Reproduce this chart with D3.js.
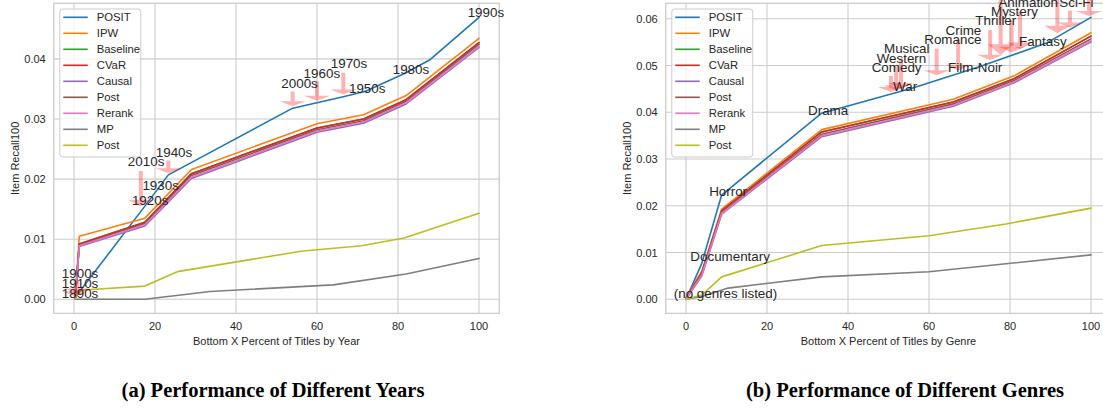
<!DOCTYPE html>
<html lang="en">
<head>
  <meta charset="UTF-8">
  <title>Item Recall100 by Year and Genre</title>
  <script src="https://d3js.org/d3.v7.min.js"></script>
  <style>
    body { margin: 0; padding: 0; background: #fff; }
    svg { display: block; font-family: "Liberation Sans", Arial, sans-serif; }
    .tick { font-size: 11px; fill: #262626; }
    .axis-label { font-size: 11px; fill: #262626; }
    .legend-text { font-size: 11.3px; fill: #262626; }
    .note { font-size: 13.4px; fill: #262626; }
    .caption { font-family: "Liberation Serif", "DejaVu Serif", serif; font-weight: bold; font-size: 20.5px; fill: #000; }
  </style>
</head>
<body>
  <svg id="chart" width="1103" height="409"></svg>

  <script>
    const methods = ["POSIT", "IPW", "Baseline", "CVaR", "Causal", "Post", "Rerank", "MP", "Post"];
    const colors = ["#1f77b4", "#ff7f0e", "#2ca02c", "#d62728", "#9467bd", "#8c564b", "#e377c2", "#7f7f7f", "#bcbd22"];
    const xTicks = [0, 20, 40, 60, 80, 100];

    // (a) years: [bottom x percent, recall]
    const yearPosit    = [[0.3,0.0002],[1.3,0.0012],[17.5,0.0155],[23.3,0.0207],[54,0.0318],[60,0.0327],[66.5,0.0337],[72,0.0346],[82,0.0377],[88,0.0399],[100,0.0469]];
    const yearIpw      = [[0.3,0.0003],[1.3,0.0105],[17.5,0.0135],[29,0.0216],[60,0.0292],[71.5,0.0307],[82,0.0339],[100,0.0434]];
    const yearBaseline = [[0.3,0.0002],[1.3,0.0092],[17.5,0.0128],[29,0.0209],[60,0.0285],[71.5,0.0300],[82,0.0332],[100,0.0427]];
    const yearCvar     = [[0.3,0.0002],[1.3,0.0092],[17.5,0.0128],[29,0.0209],[60,0.0285],[71.5,0.0300],[82,0.0332],[100,0.0427]];
    const yearCausal   = [[0.3,0.0001],[1.3,0.0088],[17.5,0.0122],[29,0.0201],[60,0.0278],[71.5,0.0293],[82,0.0325],[100,0.0419]];
    const yearPost     = [[0.3,0.0001],[1.3,0.0090],[17.5,0.0126],[29,0.0206],[60,0.0282],[71.5,0.0297],[82,0.0329],[100,0.0424]];
    const yearRerank   = [[0.3,0.0001],[1.3,0.0089],[17.5,0.0124],[29,0.0203],[60,0.0280],[71.5,0.0295],[82,0.0327],[100,0.0421]];
    const yearMp       = [[0.3,0],[17.5,0],[33.6,0.0013],[64,0.0024],[82,0.0042],[100,0.0068]];
    const yearPost2    = [[0.3,0.0002],[1.3,0.0015],[17.5,0.0022],[25.5,0.0046],[43.5,0.0066],[56,0.0080],[71,0.0089],[81.5,0.0102],[100,0.0143]];

    const yearNoteLabels = ["1890s","1910s","1900s","2010s","1920s","1930s","1940s","2000s","1960s","1970s","1950s","1980s","1990s"];
    const yearNotePoints = [[0.3,0.0001],[0.3,0.0003],[0.8,0.0007],[16.5,0.0150],[17.6,0.0156],[20.2,0.0182],[23.3,0.0207],[54,0.0318],[60,0.0327],[66.5,0.0337],[72,0.0346],[82,0.0377],[100,0.0469]];
    const yearNoteText   = [[1.5,0.0002],[1.5,0.0019],[1.5,0.0036],[17.8,0.0222],[18.8,0.0157],[21.4,0.0182],[24.7,0.0237],[55.7,0.0352],[61.2,0.0369],[67.9,0.0384],[72.4,0.0344],[83.2,0.0374],[101.7,0.0469]];

    // (b) genres
    const genrePosit    = [[0,0],[3.9,0.0077],[8.8,0.0223],[33.5,0.0398],[56,0.0452],[72.6,0.0498],[89,0.0548],[100,0.0603]];
    const genreIpw      = [[0,0.0003],[3.9,0.0060],[8.8,0.0193],[33.5,0.0363],[66,0.0428],[81,0.0478],[100,0.0570]];
    const genreBaseline = [[0,0.0002],[3.9,0.0057],[8.8,0.0189],[33.5,0.0358],[66,0.0422],[81,0.0472],[100,0.0563]];
    const genreCvar     = [[0,0.0002],[3.9,0.0057],[8.8,0.0189],[33.5,0.0358],[66,0.0422],[81,0.0472],[100,0.0563]];
    const genreCausal   = [[0,0],[3.9,0.0050],[8.8,0.0182],[33.5,0.0348],[66,0.0413],[81,0.0463],[100,0.0551]];
    const genrePost     = [[0,0.0001],[3.9,0.0054],[8.8,0.0186],[33.5,0.0353],[66,0.0418],[81,0.0468],[100,0.0557]];
    const genreRerank   = [[0,0.0001],[3.9,0.0052],[8.8,0.0184],[33.5,0.0350],[66,0.0415],[81,0.0465],[100,0.0553]];
    const genreMp       = [[0,0],[3.9,0.0006],[10.4,0.0024],[33.5,0.0048],[60,0.0059],[79,0.0076],[100,0.0095]];
    const genrePost2    = [[0,0],[3.9,0.0009],[8.8,0.0048],[33.5,0.0115],[60,0.0136],[79,0.0161],[100,0.0195]];

    const genreNoteLabels = ["(no genres listed)","Documentary","Horror","Drama","War","Comedy","Western","Musical","Romance","Crime","Film-Noir","Thriller","Mystery","Animation","Fantasy","Sci-Fi"];
    const genreNotePoints = [[0,0],[3.9,0.0077],[8.8,0.0223],[33.5,0.0398],[52.5,0.0443],[50.6,0.0439],[51.9,0.0442],[53.1,0.0445],[61.9,0.0474],[67.2,0.0484],[71.4,0.0494],[75.1,0.0506],[80.4,0.0522],[82.5,0.0528],[86.9,0.0542],[94.8,0.0577]];
    const genreNoteText   = [[9.75,0.0002],[10.9,0.0081],[10.4,0.0221],[35.1,0.0395],[54.1,0.0445],[52.0,0.0486],[53.2,0.0506],[54.5,0.0526],[65.9,0.0546],[68.5,0.0566],[71.4,0.0486],[76.5,0.0586],[81.1,0.0606],[84.5,0.0626],[88.1,0.0541],[96.4,0.0626]];
    // arrows whose labels sit above the top of the figure
    const genreCutPoints = [[77.7,0.0514],[91.7,0.0562],[99.5,0.0601]];
    const genreCutText   = [[79.0,0.0660],[93.0,0.0668],[100.5,0.0668]];

    const yearTicks = [0, 0.01, 0.02, 0.03, 0.04];
    const genreTicks = [0, 0.01, 0.02, 0.03, 0.04, 0.05, 0.06];

    const svg = d3.select("#chart");
    svg.append("rect").attr("width", 1103).attr("height", 409).attr("fill", "#fff");

    function drawArrow(g, x, y, pt, tx) {
      const px = x(pt[0]), py = y(pt[1]);
      const y1 = y(tx[1]) + 3;
      const len = py - y1;
      if (len < 5) return;
      const s = y1 + len * 0.05, e = py - len * 0.05 - 1;
      const hl = Math.max(5, (e - s) * 0.18), hw = 13, sw = 2;
      const p = d3.path();
      p.moveTo(px - sw, s); p.lineTo(px - sw, e - hl); p.lineTo(px - hw, e - hl);
      p.lineTo(px, e); p.lineTo(px + hw, e - hl); p.lineTo(px + sw, e - hl); p.lineTo(px + sw, s);
      p.closePath();
      g.append("path").attr("d", p.toString()).attr("fill", "#ff0000").attr("fill-opacity", 0.3);
    }

    function drawPanel(opts) {
      const top = 3.3, bottom = 313.4;
      const allY = opts.series.flatMap(s => s.map(d => d[1]));
      const yMax = d3.max(allY), yMin = 0;
      const pad = (yMax - yMin) * 0.05;

      const x = d3.scaleLinear().domain([-5, 105]).range([opts.left, opts.left + 445.5]);
      const y = d3.scaleLinear().domain([yMin - pad, yMax + pad]).range([bottom, top]);

      const g = svg.append("g");
      const clipId = "clip-" + opts.id;
      g.append("clipPath").attr("id", clipId)
       .append("rect").attr("x", x(-5)).attr("y", top).attr("width", x(105) - x(-5)).attr("height", bottom - top);

      // grid
      g.selectAll(".gx").data(xTicks).enter().append("line")
       .attr("x1", d => x(d)).attr("x2", d => x(d)).attr("y1", top).attr("y2", bottom)
       .attr("stroke", "#cccccc").attr("stroke-width", 1.1);
      g.selectAll(".gy").data(opts.yTicks).enter().append("line")
       .attr("x1", x(-5)).attr("x2", x(105)).attr("y1", d => y(d)).attr("y2", d => y(d))
       .attr("stroke", "#cccccc").attr("stroke-width", 1.1);

      // frame
      g.append("rect").attr("x", x(-5)).attr("y", top).attr("width", x(105) - x(-5)).attr("height", bottom - top)
       .attr("fill", "none").attr("stroke", "#cccccc").attr("stroke-width", 1.3);

      // tick labels
      g.selectAll(".tx").data(xTicks).enter().append("text").attr("class", "tick")
       .attr("x", d => x(d)).attr("y", 330).attr("text-anchor", "middle").text(d => d);
      g.selectAll(".ty").data(opts.yTicks).enter().append("text").attr("class", "tick")
       .attr("x", x(-5) - 8).attr("y", d => y(d)).attr("dy", "0.36em").attr("text-anchor", "end")
       .text(d => d3.format(".2f")(d));

      // axis labels
      g.append("text").attr("class", "axis-label").attr("x", (x(-5) + x(105)) / 2).attr("y", 345)
       .attr("text-anchor", "middle").text(opts.xLabel);
      g.append("text").attr("class", "axis-label")
       .attr("transform", `translate(${x(-5) - 35},${(top + bottom) / 2}) rotate(-90)`)
       .attr("text-anchor", "middle").text("Item Recall100");

      // lines
      const line = d3.line().x(d => x(d[0])).y(d => y(d[1]));
      const lines = g.append("g").attr("clip-path", `url(#${clipId})`);
      opts.series.forEach((s, i) => {
        lines.append("path").attr("d", line(s)).attr("fill", "none")
             .attr("stroke", colors[i]).attr("stroke-width", 1.6)
             .attr("stroke-linejoin", "round").attr("stroke-linecap", "round");
      });

      // annotation arrows (pointing down to the curve)
      opts.notePoints.forEach((pt, i) => drawArrow(g, x, y, pt, opts.noteText[i]));
      (opts.cutPoints || []).forEach((pt, i) => drawArrow(g, x, y, pt, opts.cutText[i]));

      // annotation texts
      opts.noteLabels.forEach((lab, i) => {
        g.append("text").attr("class", "note")
         .attr("x", x(opts.noteText[i][0])).attr("y", y(opts.noteText[i][1]))
         .attr("text-anchor", "middle").text(lab);
      });

      // legend
      const lx = x(-5) + 6, ly = 9;
      const lg = g.append("g");
      lg.append("rect").attr("x", lx).attr("y", ly).attr("width", 81).attr("height", 148)
        .attr("rx", 3).attr("fill", "#fff").attr("fill-opacity", 0.8)
        .attr("stroke", "#cccccc").attr("stroke-width", 1);
      methods.forEach((m, i) => {
        const cy = ly + 8.3 + i * 16;
        lg.append("line").attr("x1", lx + 3.5).attr("x2", lx + 28).attr("y1", cy).attr("y2", cy)
          .attr("stroke", colors[i]).attr("stroke-width", 1.6);
        lg.append("text").attr("class", "legend-text").attr("x", lx + 37).attr("y", cy).attr("dy", "0.36em").text(m);
      });

      svg.append("text").attr("class", "caption").attr("x", opts.captionX).attr("y", 397)
         .attr("text-anchor", "middle").text(opts.caption);
    }

    drawPanel({
      id: "year", left: 53.75,
      series: [yearPosit, yearIpw, yearBaseline, yearCvar, yearCausal, yearPost, yearRerank, yearMp, yearPost2],
      yTicks: yearTicks,
      noteLabels: yearNoteLabels, notePoints: yearNotePoints, noteText: yearNoteText,
      xLabel: "Bottom X Percent of Titles by Year",
      caption: "(a) Performance of Different Years", captionX: 273
    });

    drawPanel({
      id: "genre", left: 665.75,
      series: [genrePosit, genreIpw, genreBaseline, genreCvar, genreCausal, genrePost, genreRerank, genreMp, genrePost2],
      yTicks: genreTicks,
      noteLabels: genreNoteLabels, notePoints: genreNotePoints, noteText: genreNoteText,
      cutPoints: genreCutPoints, cutText: genreCutText,
      xLabel: "Bottom X Percent of Titles by Genre",
      caption: "(b) Performance of Different Genres", captionX: 905
    });
  </script>
</body>
</html>
